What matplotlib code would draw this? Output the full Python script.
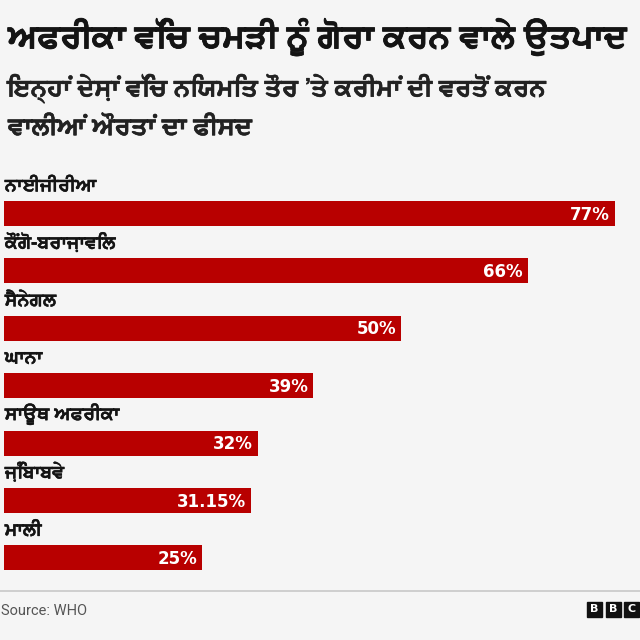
import matplotlib
matplotlib.use("Agg")
import matplotlib.pyplot as plt
from matplotlib import font_manager, ft2font
from matplotlib.patches import Rectangle
import matplotlib.patheffects as pe

countries = ["ਨਾਈਜੀਰੀਆ", "ਕੌਂਗੋ-ਬਰਾਜ਼ਾਵਿਲ", "ਸੈਨੇਗਲ", "ਘਾਨਾ", "ਸਾਊਥ ਅਫਰੀਕਾ", "ਜ਼ਿੰਬਾਬਵੇ", "ਮਾਲੀ"]
values = [77, 66, 50, 39, 32, 31.15, 25]
value_labels = ["77%", "66%", "50%", "39%", "32%", "31.15%", "25%"]
title = "ਅਫਰੀਕਾ ਵਿੱਚ ਚਮੜੀ ਨੂੰ ਗੋਰਾ ਕਰਨ ਵਾਲੇ ਉਤਪਾਦ"
subtitle_lines = ["ਇਨ੍ਹਾਂ ਦੇਸ਼ਾਂ ਵਿੱਚ ਨਿਯਮਿਤ ਤੌਰ ’ਤੇ ਕਰੀਮਾਂ ਦੀ ਵਰਤੋਂ ਕਰਨ",
                  "ਵਾਲੀਆਂ ਔਰਤਾਂ ਦਾ ਫੀਸਦ"]
source = "Source: WHO"


def find_family(ch):
    regular, bold = None, None
    for f in font_manager.fontManager.ttflist:
        try:
            ft = ft2font.FT2Font(f.fname)
            if ord(ch) in ft.get_charmap():
                w = f.weight if isinstance(f.weight, int) else 400
                if w >= 600 and bold is None:
                    bold = f.name
                if regular is None:
                    regular = f.name
        except Exception:
            pass
    return bold or regular


gur = find_family("ਪ")
fams = ([gur] if gur else []) + ["DejaVu Sans"]
plt.rcParams["font.family"] = fams

BG = "#f5f5f5"
RED = "#b80000"
W = H = 640

fig = plt.figure(figsize=(6.4, 6.4), dpi=100, facecolor=BG)

def fy(px):
    return 1 - px / H

def heavy(color, lw):
    return [pe.withStroke(linewidth=lw, foreground=color)]

fig.text(8 / W, fy(37), title, fontsize=23.5, fontweight="bold", color="#141414", va="center",
         ha="left", path_effects=heavy("#141414", 0.6))
for py, line in zip([89, 128], subtitle_lines):
    fig.text(8 / W, fy(py), line, fontsize=17.6, fontweight="bold", color="#222222",
             va="center", ha="left", path_effects=heavy("#222222", 0.4))

spacing = 57.4
c0 = 213.5
top_px, bot_px = 180, 585
x0, x77 = 4, 615
ax = fig.add_axes([x0 / W, 1 - bot_px / H, (x77 - x0) / W, (bot_px - top_px) / H])
ax.set_facecolor("none")
ax.set_xlim(0, 77)
ax.set_ylim((bot_px - c0) / spacing, (top_px - c0) / spacing)
ax.axis("off")

bh = 25 / spacing
ys = list(range(len(values)))
ax.barh(ys, values, height=bh, color=RED, edgecolor="none")
for y, v, lab, name in zip(ys, values, value_labels, countries):
    ax.text(v - 0.6, y + 0.02, lab, color="white", fontsize=12, fontweight="bold",
            ha="right", va="center", family="DejaVu Sans")
    ax.text(0.1, y - bh / 2 - 6 / spacing, name, color="#141414", fontsize=13,
            fontweight="bold", ha="left", va="bottom", path_effects=heavy("#141414", 0.3))

# bottom separator
fig.add_artist(plt.Line2D([0, 1], [fy(591), fy(591)], color="#c8c8c8", lw=1.2))
fig.text(1 / W, fy(611), source, fontsize=10.5, color="#555555", va="center", ha="left",
         family=["Roboto", "DejaVu Sans"])

# BBC blocks
for i, ch in enumerate("BBC"):
    x = 587 + i * 18.5
    fig.add_artist(Rectangle((x / W, fy(617)), 15 / W, 15 / H, color="#111111",
                             transform=fig.transFigure))
    fig.text((x + 7.5) / W, fy(609.5), ch, color="white", fontsize=8, fontweight="bold",
             ha="center", va="center", family="DejaVu Sans")

fig.savefig("out.png", dpi=100, facecolor=BG)
